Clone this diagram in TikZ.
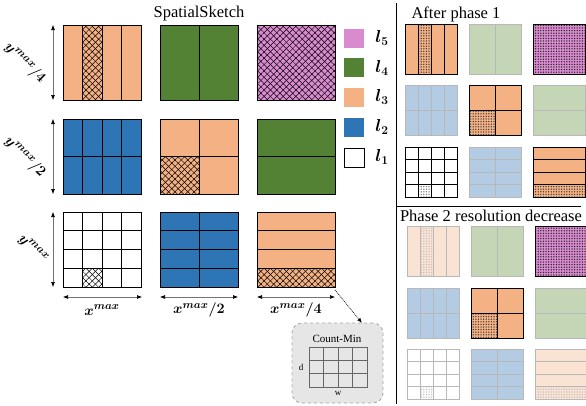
\documentclass[tikz,border=0pt]{standalone}
\usepackage{fontspec}
\setmainfont{Liberation Serif}
\usepackage{bm}
\usetikzlibrary{patterns,patterns.meta,arrows.meta}
\definecolor{cO}{HTML}{F4B183}
\definecolor{cG}{HTML}{548235}
\definecolor{cB}{HTML}{2E75B6}
\definecolor{cP}{HTML}{DA8BD0}
\definecolor{fO}{HTML}{FBE3D3}
\definecolor{fG}{HTML}{C5D6B7}
\definecolor{fB}{HTML}{B4CCE3}
\definecolor{cmgray}{HTML}{E6E6E6}
\newcommand\gbox[9]{%
 \fill[#7] (#1,#2) rectangle ++(#3,#4);
 #9
 \ifnum#5>1\relax \foreach \i in {2,...,#5}{\draw[#8] ({#1+(\i-1)*#3/#5},#2) -- ++(0,#4);}\fi
 \ifnum#6>1\relax \foreach \j in {2,...,#6}{\draw[#8] (#1,{#2+(\j-1)*#4/#6}) -- ++(#3,0);}\fi
 \draw[#8] (#1,#2) rectangle ++(#3,#4);
}
\newcommand\hx[4]{\fill[hatchA] (#1,#2) rectangle ++(#3,#4);\fill[hatchB] (#1,#2) rectangle ++(#3,#4);}
\newcommand\hd[5]{\fill[pattern={Dots[distance=2.6pt,radius=0.75pt]},pattern color=#5] (#1,#2) rectangle ++(#3,#4);}
\begin{document}
\begin{tikzpicture}[x=1pt,y=-1pt,
  bl/.style={draw=black,line width=0.8pt},
  gl/.style={draw=black!28,line width=0.6pt},
  cml/.style={draw=black!60,line width=0.6pt},
  hatchA/.style={pattern={Lines[angle=45,distance=4.5pt,line width=0.5pt]},pattern color=black},
  hatchB/.style={pattern={Lines[angle=-45,distance=4.5pt,line width=0.5pt]},pattern color=black},
  dimarrow/.style={draw=black!55,line width=0.6pt,{Latex[length=5pt,width=4pt,black]}-{Latex[length=5pt,width=4pt,black]}},
  title/.style={font=\fontsize{16.5}{18}\selectfont},
  mlab/.style={font=\fontsize{15}{17}\selectfont,inner sep=1pt},
  leg/.style={font=\fontsize{16.5}{18}\selectfont}]
\useasboundingbox (0,0) rectangle (586,405);

% ---------- main panel ----------
\node[title] (ttl) at (199,14) {SpatialSketch};
% row 1
\gbox{63}{25}{78}{75}{4}{1}{cO}{bl}{\hx{82.5}{25}{19.5}{75}}
\gbox{160}{25}{78}{75}{2}{1}{cG}{bl}{}
\gbox{257}{25}{78}{75}{1}{1}{cP}{bl}{\hx{257}{25}{78}{75}}
% row 2
\gbox{63}{119}{78}{75}{4}{2}{cB}{bl}{}
\gbox{160}{119}{78}{75}{2}{2}{cO}{bl}{\hx{160}{156.5}{39}{37.5}}
\gbox{257}{119}{78}{75}{1}{2}{cG}{bl}{}
% row 3
\gbox{63}{212}{78}{75}{4}{4}{white}{bl}{\hx{82.5}{268.25}{19.5}{18.75}}
\gbox{160}{212}{78}{75}{2}{4}{cB}{bl}{}
\gbox{257}{212}{78}{75}{1}{4}{cO}{bl}{\hx{257}{268.25}{78}{18.75}}

% dimension arrows
\coordinate (v1a) at (53,25); \coordinate (v1b) at (53,100);
\coordinate (v2a) at (53,119); \coordinate (v2b) at (53,194);
\coordinate (v3a) at (53,212); \coordinate (v3b) at (53,287);
\draw[dimarrow] (v1a) -- (v1b);
\draw[dimarrow] (v2a) -- (v2b);
\draw[dimarrow] (v3a) -- (v3b);
\coordinate (h1a) at (63,297); \coordinate (h1b) at (142,297);
\coordinate (h2a) at (160,297); \coordinate (h2b) at (238,297);
\coordinate (h3a) at (257,297); \coordinate (h3b) at (335,297);
\draw[dimarrow] (h1a) -- (h1b);
\draw[dimarrow] (h2a) -- (h2b);
\draw[dimarrow] (h3a) -- (h3b);
\node[mlab,rotate=-45] (ly1) at (25,63) {$\bm{y^{max}/4}$};
\node[mlab,rotate=-45] (ly2) at (25,157) {$\bm{y^{max}/2}$};
\node[mlab,rotate=-45] (ly3) at (33,249) {$\bm{y^{max}}$};
\node[mlab] (lx1) at (102,310) {$\bm{x^{max}}$};
\node[mlab] (lx2) at (199,310) {$\bm{x^{max}/2}$};
\node[mlab] (lx3) at (296,310) {$\bm{x^{max}/4}$};

% legend
\fill[cP] (344,29) rectangle ++(20,19);
\fill[cG] (344,58) rectangle ++(20,19);
\fill[cO] (344,88) rectangle ++(20,19);
\fill[cB] (344,118) rectangle ++(20,19);
\draw[black,line width=0.7pt,fill=white] (344,148) rectangle ++(20,19);
\node[leg] (l5) at (382,38) {$\bm{l_5}$};
\node[leg] (l4) at (382,68) {$\bm{l_4}$};
\node[leg] (l3) at (382,97) {$\bm{l_3}$};
\node[leg] (l2) at (382,127) {$\bm{l_2}$};
\node[leg] (l1) at (382,157) {$\bm{l_1}$};

% count-min
\node[draw=black!35,dashed,fill=cmgray,rounded corners=10pt,line width=0.8pt,minimum width=91pt,minimum height=80pt] (cm) at (337.5,363) {};
\node[font=\fontsize{11}{13}\selectfont] (cmt) at (337,339) {Count-Min};
\gbox{309}{347}{58}{40}{4}{3}{cmgray}{cml}{}
\node[font=\fontsize{9}{11}\selectfont] (cd) at (301,367) {d};
\node[font=\fontsize{9}{11}\selectfont] (cw) at (338,393) {w};
\coordinate (dstart) at (335,290);
\coordinate (dend) at (362,323);
\draw[densely dotted,line width=0.8pt,-{Latex[length=5pt,width=4pt]}] (dstart) -- (dend);

% separators
\coordinate (s1) at (396,3); \coordinate (s2) at (396,404);
\draw[line width=1pt] (s1) -- (s2);
\coordinate (s3) at (396,206); \coordinate (s4) at (581,206);
\draw[line width=1pt] (s3) -- (s4);

% ---------- after phase 1 ----------
\node[title] (tp1) at (456,14) {After phase 1};
\gbox{405}{24}{52}{50}{4}{1}{cO}{bl}{\hd{418}{24}{13}{50}{black!75}}
\gbox{469}{24}{52}{50}{2}{1}{fG}{gl}{}
\gbox{533}{24}{52}{50}{1}{1}{cP}{bl}{\hd{533}{24}{52}{50}{black!85}}
\gbox{405}{85}{52}{50}{4}{2}{fB}{gl}{}
\gbox{469}{85}{52}{50}{2}{2}{cO}{bl}{\hd{469}{110}{26}{25}{black!75}}
\gbox{533}{85}{52}{50}{1}{2}{fG}{gl}{}
\gbox{405}{147}{52}{50}{4}{4}{white}{bl}{\hd{418}{184.5}{13}{12.5}{black!50}}
\gbox{469}{147}{52}{50}{2}{4}{fB}{gl}{}
\gbox{533}{147}{52}{50}{1}{4}{cO}{bl}{\hd{533}{184.5}{52}{12.5}{black!75}}

% ---------- phase 2 ----------
\node[title] (tp2) at (491,216) {Phase 2 resolution decrease};
\gbox{407}{226}{52}{50}{4}{1}{fO}{gl}{\hd{420}{226}{13}{50}{black!25}}
\gbox{471}{226}{52}{50}{2}{1}{fG}{gl}{}
\gbox{535}{226}{52}{50}{1}{1}{cP}{bl}{\hd{535}{226}{52}{50}{black!85}}
\gbox{407}{288}{52}{50}{4}{2}{fB}{gl}{}
\gbox{471}{288}{52}{50}{2}{2}{cO}{bl}{\hd{471}{313}{26}{25}{black!75}}
\gbox{535}{288}{52}{50}{1}{2}{fG}{gl}{}
\gbox{407}{349}{52}{50}{4}{4}{white}{gl}{\hd{420}{386.5}{13}{12.5}{black!25}}
\gbox{471}{349}{52}{50}{2}{4}{fB}{gl}{}
\gbox{535}{349}{52}{50}{1}{4}{fO}{gl}{\hd{535}{386.5}{52}{12.5}{black!25}}
\end{tikzpicture}
\end{document}
